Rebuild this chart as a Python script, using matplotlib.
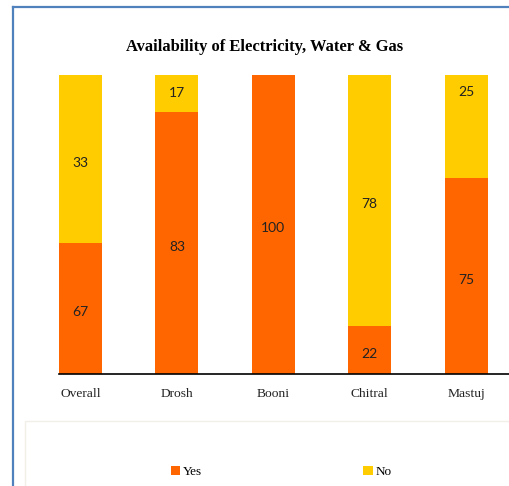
import numpy as np
from matplotlib import pyplot as plt
from matplotlib.lines import Line2D
from matplotlib.patches import Rectangle

places = ["Overall", "Drosh", "Booni", "Chitral", "Mastuj"]
# labels written on the bars
yes_label = [67, 83, 100, 22, 75]
no_label = [33, 17, 0, 78, 25]
# bar heights as drawn in the picture (% of the axis)
yes_h = [43.8, 87.6, 100, 16.0, 65.5]
no_h = [56.2, 12.4, 0, 84.0, 34.8]

plt.rcParams['font.family'] = ['Liberation Serif', 'DejaVu Serif']

fig = plt.figure(figsize=(5.1, 4.86), dpi=100)
ax = fig.add_axes([59/510, 112/486, 451/510, 299/486])

x = np.arange(len(places))
w = 0.446
ax.bar(x, yes_h, w, color="#FF6600", label="Yes")
ax.bar(x, no_h, w, bottom=yes_h, color="#FFCC00", label="No")

num_font = ["Lato", "DejaVu Sans"]
# these "No" labels sit near the top of their segment
no_top = {1: 6.0, 4: 6.0}
for i in range(len(places)):
    if yes_label[i] > 0:
        ax.text(x[i], yes_h[i] / 2 - 1.3, str(yes_label[i]), ha="center", va="center",
                fontsize=10, color="#222222", family=num_font)
    if no_label[i] > 0:
        top = yes_h[i] + no_h[i]
        yl = top - no_top[i] if i in no_top else yes_h[i] + no_h[i] / 2 - 1.3
        ax.text(x[i], yl, str(no_label[i]), ha="center", va="center",
                fontsize=10, color="#222222", family=num_font)

ax.set_xlim(-w / 2, 4.455)
ax.set_ylim(0, 100)
ax.set_yticks([])
ax.set_xticks(x)
ax.set_xticklabels(places, fontsize=9.7, color="#222222")
ax.tick_params(axis="x", length=0, pad=10)
for s in ["top", "right", "left"]:
    ax.spines[s].set_visible(False)
ax.spines["bottom"].set_linewidth(1.2)

fig.text(265/510, 1 - 47/486, "Availability of Electricity, Water & Gas",
         ha="center", va="center", fontsize=11.9, fontweight="bold")

# outer frame and legend box
fig.add_artist(Line2D([13/510, 13/510], [0, 1 - 7/486], color="#4F81BD", lw=1.6))
fig.add_artist(Line2D([13/510, 1], [1 - 7/486, 1 - 7/486], color="#4F81BD", lw=1.6))
fig.add_artist(Rectangle((25/510, -0.01), 0.97, (486 - 421)/486 + 0.01, fill=False,
                         edgecolor="#F2EFE8", lw=1))

fig.legend(loc="center", bbox_to_anchor=(281/510, 14/486), ncol=2, frameon=False,
           fontsize=9.5, handlelength=0.7, handleheight=0.7, handletextpad=0.2,
           columnspacing=12.25)

fig.savefig("out.png", dpi=100)
